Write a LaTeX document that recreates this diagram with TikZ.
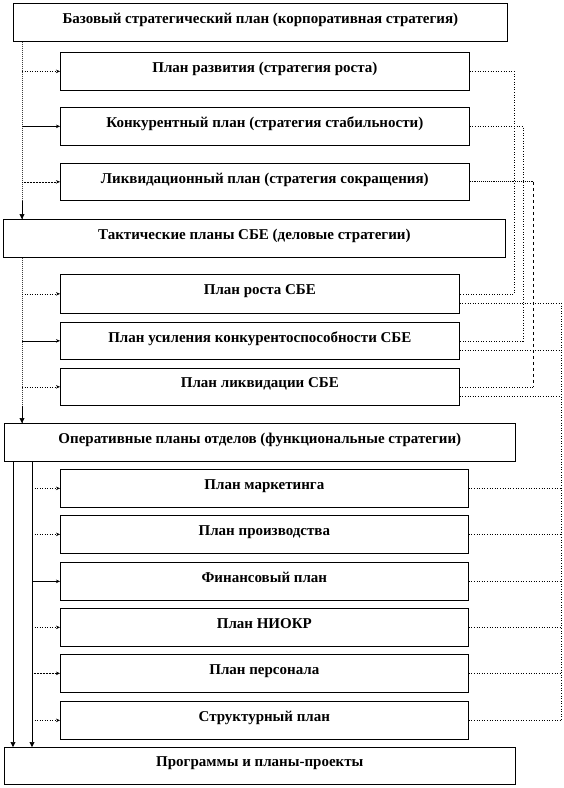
\documentclass[tikz,border=0pt]{standalone}
\usepackage{fontspec}
\setmainfont{Liberation Serif}
\usetikzlibrary{arrows.meta,calc}
\begin{document}
\begin{tikzpicture}[x=1pt,y=-1pt,
  box/.style={draw=black, line width=0.7pt, fill=white, anchor=north west, inner sep=0pt,
    text depth=8pt, font=\fontsize{15}{17}\selectfont\bfseries},
  feed/.style={line width=0.5pt, -{Stealth[length=4pt,width=3.5pt]}},
  dn/.style={line width=0.6pt, -{Triangle[length=5pt,width=5pt]}},
  trunk/.style={densely dotted, line width=1pt, black!75},
  link/.style={dotted, line width=0.6pt}
]
\useasboundingbox (0,0) rectangle (563,788);
\fill[white] (0,0) rectangle (563,788);
% ---- boxes
\node[box, minimum width=494pt, minimum height=38pt] (base) at (13,3) {Базовый стратегический план (корпоративная стратегия)};
\node[box, minimum width=409pt, minimum height=38pt] (dev) at (60,52) {План развития (стратегия роста)};
\node[box, minimum width=409pt, minimum height=38pt] (comp) at (60,107) {Конкурентный план (стратегия стабильности)};
\node[box, minimum width=409pt, minimum height=37pt] (liq) at (60,163) {Ликвидационный план (стратегия сокращения)};
\node[box, minimum width=502pt, minimum height=38pt] (tac) at (3,219) {Тактические планы СБЕ (деловые стратегии)};
\node[box, minimum width=399pt, minimum height=39pt] (grow) at (60,274) {План роста СБЕ};
\node[box, minimum width=399pt, minimum height=37pt] (strong) at (60,322) {План усиления конкурентоспособности СБЕ};
\node[box, minimum width=399pt, minimum height=37pt] (liqs) at (60,368) {План ликвидации СБЕ};
\node[box, minimum width=511pt, minimum height=38pt] (oper) at (4,423) {Оперативные планы отделов (функциональные стратегии)};
\node[box, minimum width=408pt, minimum height=38pt] (mkt) at (60,469) {План маркетинга};
\node[box, minimum width=408pt, minimum height=38pt] (prod) at (60,515) {План производства};
\node[box, minimum width=408pt, minimum height=38pt] (fin) at (60,562) {Финансовый план};
\node[box, minimum width=408pt, minimum height=38pt] (rnd) at (60,608) {План НИОКР};
\node[box, minimum width=408pt, minimum height=38pt] (pers) at (60,654) {План персонала};
\node[box, minimum width=408pt, minimum height=38pt] (struct) at (60,701) {Структурный план};
\node[box, minimum width=511pt, minimum height=37pt] (prog) at (4,747) {Программы и планы-проекты};
% ---- guide coordinates
\coordinate (L1) at (22,0);
\coordinate (La) at (13,0);
\coordinate (Lb) at (32,0);
\coordinate (R1) at (514,0);
\coordinate (R2) at (523,0);
\coordinate (R3) at (533,0);
\coordinate (R4) at (561,0);
% ---- left trunk
\draw[trunk] (base.south -| L1) -- (tac.north -| L1);
\draw[dn] (liq.south -| L1) -- (tac.north -| L1);
\draw[trunk] (tac.south -| L1) -- (oper.north -| L1);
\draw[dn] (liqs.south -| L1) -- (oper.north -| L1);
\draw[feed, dotted] (dev.west -| L1) -- (dev.west);
\draw[feed] (comp.west -| L1) -- (comp.west);
\draw[feed, densely dotted] (liq.west -| L1) -- (liq.west);
\draw[feed, dotted] (grow.west -| L1) -- (grow.west);
\draw[feed] (strong.west -| L1) -- (strong.west);
\draw[feed, dotted] (liqs.west -| L1) -- (liqs.west);
% ---- operational branches
\draw[dn] (oper.south -| La) -- (prog.north -| La);
\draw[dn] (oper.south -| Lb) -- (prog.north -| Lb);
\draw[feed, dotted] (mkt.west -| Lb) -- (mkt.west);
\draw[feed, dotted] (prod.west -| Lb) -- (prod.west);
\draw[feed] (fin.west -| Lb) -- (fin.west);
\draw[feed, dotted] (rnd.west -| Lb) -- (rnd.west);
\draw[feed, densely dotted] (pers.west -| Lb) -- (pers.west);
\draw[feed, dotted] (struct.west -| Lb) -- (struct.west);
% ---- right side links
\draw[link] (dev.east) -- (dev.east -| R1) -- (grow.east -| R1) -- (grow.east);
\draw[link] (comp.east) -- (comp.east -| R2) -- (strong.east -| R2) -- (strong.east);
\draw[densely dotted, line width=0.9pt] (liq.east) -- (liq.east -| R3);
\draw[dashed, line width=0.6pt] (liq.east -| R3) -- (liqs.east -| R3);
\draw[link] (liqs.east -| R3) -- (liqs.east);
\draw[link] ([yshift=-9pt]grow.east) -- ([yshift=-9pt]grow.east -| R4) -- (struct.east -| R4);
\draw[link] ([yshift=-9pt]strong.east) -- ([yshift=-9pt]strong.east -| R4);
\draw[link] ([yshift=-9pt]liqs.east) -- ([yshift=-9pt]liqs.east -| R4);
\draw[link] (mkt.east) -- (mkt.east -| R4);
\draw[link] (prod.east) -- (prod.east -| R4);
\draw[link] (fin.east) -- (fin.east -| R4);
\draw[link] (rnd.east) -- (rnd.east -| R4);
\draw[link] (pers.east) -- (pers.east -| R4);
\draw[link] (struct.east) -- (struct.east -| R4);
\end{tikzpicture}
\end{document}
